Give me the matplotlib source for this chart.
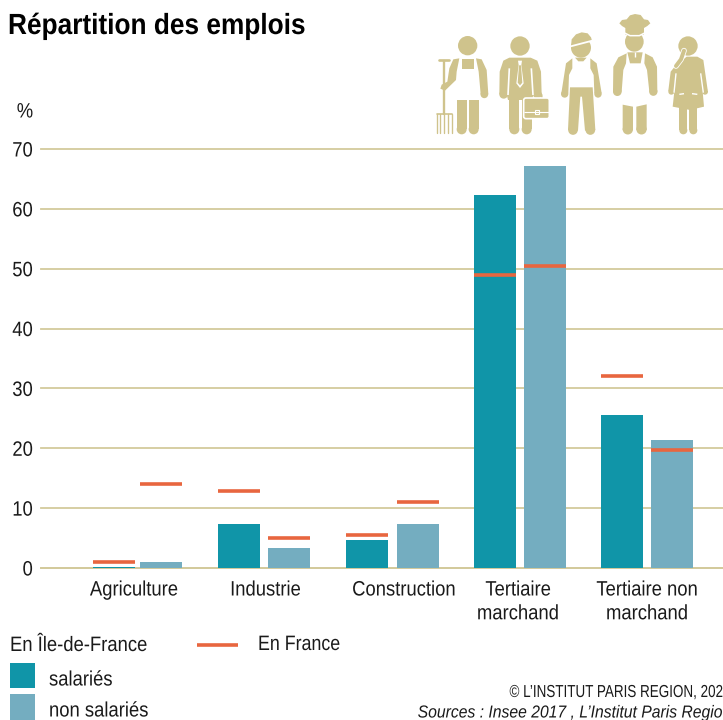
import matplotlib
matplotlib.use('Agg')
import matplotlib.pyplot as plt
import numpy as np
from matplotlib.patches import Circle, Ellipse, FancyBboxPatch, Polygon, Rectangle
from matplotlib.patheffects import AbstractPathEffect
from matplotlib.transforms import Affine2D

categories = ['Agriculture', 'Industrie', 'Construction', 'Tertiaire\nmarchand', 'Tertiaire non\nmarchand']
idf_salaries = [0.2, 7.4, 4.7, 62.3, 25.6]
idf_non_salaries = [1.0, 3.3, 7.3, 67.2, 21.4]
france_salaries = [1.0, 12.8, 5.5, 49.0, 32.0]
france_non_salaries = [14.0, 5.0, 11.1, 50.4, 19.7]
y_ticks = [0, 10, 20, 30, 40, 50, 60, 70]

TEAL = '#1095A8'
LIGHT = '#74ADC0'
ORANGE = '#E8663F'
TAN = '#CFC38C'
GRID = '#D3CA9C'
INK = '#1A1A1A'
NARROW = 0.885


class Narrow(AbstractPathEffect):
    """Squeezes text sideways around a pixel column, no narrow font is installed."""

    def __init__(self, factor, anchor):
        super().__init__()
        self.factor = factor
        self.anchor = anchor

    def draw_path(self, renderer, gc, tpath, affine, rgbFace=None):
        squeeze = Affine2D().translate(-self.anchor, 0).scale(self.factor, 1).translate(self.anchor, 0)
        renderer.draw_path(gc, tpath, affine + squeeze, rgbFace)


plt.rcParams['font.family'] = ['Liberation Sans', 'DejaVu Sans']
W, H = 723, 720
fig = plt.figure(figsize=(W / 100, H / 100), dpi=100)

# main chart, y=0 sits at pixel 568 and y=70 at pixel 149
ax = fig.add_axes([41 / W, (H - 568) / H, (W - 41) / W, (568 - 149) / H])
x = np.array([0, 0.992, 2, 2.996, 3.996])
offset = np.array([0.184, 0.198, 0.2, 0.196, 0.197])
label_x = x + np.array([-0.027, 0.012, 0.09, -0.012, 0.0])
width = 0.33
ax.bar(x - offset, idf_salaries, width, color=TEAL, zorder=3)
ax.bar(x + offset, idf_non_salaries, width, color=LIGHT, zorder=3)
ax.hlines(france_salaries, x - offset - width / 2, x - offset + width / 2, color=ORANGE, lw=2.6, zorder=4)
ax.hlines(france_non_salaries, x + offset - width / 2, x + offset + width / 2, color=ORANGE, lw=2.6, zorder=4)

ax.set_xlim(-0.757, 4.59)
ax.set_ylim(0, 70)
ax.set_yticks(y_ticks)
ax.set_xticks(label_x)
ax.set_xticklabels(categories, fontsize=15, color=INK, linespacing=1.32)
ax.tick_params(axis='both', length=0, colors=INK)
ax.tick_params(axis='y', labelsize=15, pad=5.8)
ax.tick_params(axis='x', pad=9)
ax.grid(axis='y', color=GRID, lw=1.3, zorder=1)
ax.set_axisbelow(True)
for line in ax.get_ygridlines():
    line.set_clip_on(False)
for side in ['top', 'right', 'left']:
    ax.spines[side].set_visible(False)
ax.spines['bottom'].set_color(GRID)
ax.spines['bottom'].set_linewidth(1.3)

for label, pos in zip(ax.get_xticklabels(), label_x):
    label.set_path_effects([Narrow(NARROW, ax.transData.transform((pos, 0))[0])])
for label in ax.get_yticklabels():
    label.set_path_effects([Narrow(NARROW, 33)])

# everything around the chart, in picture pixels
over = fig.add_axes([0, 0, 1, 1], zorder=5)
over.set_xlim(0, W)
over.set_ylim(H, 0)
over.axis('off')
over.patch.set_alpha(0)


def put(px, py, text, size=15, factor=NARROW, **kwargs):
    kwargs.setdefault('color', INK)
    kwargs.setdefault('va', 'center')
    t = over.text(px, py, text, fontsize=size, **kwargs)
    t.set_path_effects([Narrow(factor, px)])
    return t


put(8, 26, 'Répartition des emplois', size=21, factor=0.90, fontweight='bold', color='black')
put(25, 112, '%', ha='center')

put(10, 645.5, 'En Île-de-France')
over.plot([197, 238], [644.5, 644.5], color=ORANGE, lw=2.6, solid_capstyle='butt')
put(258, 644.5, 'En France', factor=0.855)
over.add_patch(Rectangle((10, 663), 25, 25, color=TEAL, lw=0))
put(49, 680, 'salariés')
over.add_patch(Rectangle((10, 694), 25, 26, color=LIGHT, lw=0))
put(49, 711, 'non salariés')
put(723, 692.5, '© L’INSTITUT PARIS REGION, 202', size=12.5, factor=0.775, ha='right')
put(723, 713, 'Sources : Insee 2017 , L’Institut Paris Regio', size=12.5, factor=0.905, ha='right', style='italic')

# pictograms, coordinates measured on a 3x crop of the top right corner
pic = fig.add_axes([420 / W, (H - 150) / H, 303 / W, 150 / H], zorder=4)
pic.set_xlim(0, 909)
pic.set_ylim(450, 0)
pic.axis('off')
pic.patch.set_alpha(0)


def limb(points, thick, color=TAN):
    xs, ys = zip(*points)
    pic.plot(xs, ys, color=color, lw=thick * 0.24, solid_capstyle='round', solid_joinstyle='round')


def slit(points, thick=1.0):
    xs, ys = zip(*points)
    pic.plot(xs, ys, color='white', lw=thick, solid_capstyle='butt')


def poly(points, color=TAN):
    pic.add_patch(Polygon(points, closed=True, color=color, lw=0))


def head(cx, cy, r=29):
    pic.add_patch(Circle((cx, cy), r, color=TAN, lw=0))


def leg(left, right, top, bottom=403):
    r = (right - left) / 2
    poly([(left, top), (right, top), (right, bottom - r), (left, bottom - r)])
    head(left + r, bottom - r, r)


# farmer
head(143, 137)
poly([(118, 175), (100, 178), (88, 205), (82, 245), (65, 254), (61, 266), (75, 272), (108, 240), (110, 215)])
poly([(168, 175), (185, 178), (200, 210), (205, 283), (182, 283), (176, 215)])
head(193, 283, 11.5)
poly([(125, 176), (163, 176), (163, 206), (125, 206)])
leg(110, 140, 300)
leg(146, 176, 300)
limb([(72, 182), (72, 342)], 7)
limb([(58, 180), (88, 180)], 8)
limb([(50, 342), (95, 342)], 5)
for tine in [50, 61, 72, 84, 95]:
    limb([(tine, 342), (tine, 400)], 4)

# man with suit
head(300, 138)
leg(268, 298, 285)
leg(305, 335, 285)
poly([(268, 173), (332, 173), (352, 182), (363, 215), (365, 283), (340, 283), (336, 300), (264, 300), (260, 283),
      (238, 283), (239, 215), (250, 182)])
head(251, 283, 13)
head(352, 283, 13)
slit([(268, 205), (264, 285)], 1.2)
slit([(334, 205), (339, 285)], 1.2)
poly([(294, 182), (306, 182), (304, 195), (311, 250), (300, 264), (289, 250), (296, 195)], 'white')
poly([(297, 196), (303, 196), (307, 248), (300, 256), (293, 248)])
pic.add_patch(FancyBboxPatch((335, 281), 30, 20, boxstyle='round,pad=0,rounding_size=6', fc='none', ec=TAN, lw=1.3))
pic.add_patch(FancyBboxPatch((311, 294), 77, 62, boxstyle='round,pad=0,rounding_size=7', fc=TAN, ec='white', lw=1.2))
slit([(312, 335), (388, 335)], 0.8)
pic.add_patch(Rectangle((345, 331), 12, 12, fc=TAN, ec='white', lw=0.8))

# worker with helmet
head(483, 143, 30)
poly([(453, 138), (455, 118), (468, 103), (485, 97), (503, 100), (513, 112), (516, 122)])
slit([(452, 139), (517, 122)], 1.3)
poly([(457, 175), (438, 190), (424, 280), (445, 280), (447, 225), (457, 205)])
poly([(511, 175), (530, 190), (545, 280), (523, 280), (521, 225), (511, 205)])
head(434, 282, 11)
head(534, 282, 11)
poly([(465, 173), (500, 173), (490, 184), (475, 184)])
poly([(450, 262), (518, 262), (526, 390), (495, 392), (486, 290), (481, 290), (474, 392), (444, 390)])
head(459, 390, 14.5)
head(511, 390, 14.5)

# chef
poly([(620, 58), (630, 46), (645, 42), (662, 45), (672, 58), (684, 60), (691, 70), (682, 78), (672, 84), (672, 104),
      (616, 104), (616, 84), (606, 78), (598, 70), (606, 60)])
pic.add_patch(Ellipse((643, 125), 56, 60, color=TAN, lw=0))
pic.plot([616, 630, 658, 672], [100, 107, 107, 100], color='white', lw=1.1)
poly([(620, 160), (595, 172), (580, 200), (579, 275), (605, 275), (610, 210), (618, 190)])
poly([(675, 160), (698, 172), (711, 200), (712, 275), (688, 275), (681, 210), (673, 190)])
head(592, 275, 13)
head(700, 275, 12.5)
poly([(622, 157), (668, 157), (662, 190), (630, 190)])
slit([(645, 157), (645, 170)], 1.0)
poly([(608, 314), (639, 320), (639, 390), (608, 390)])
poly([(649, 320), (680, 313), (680, 390), (649, 390)])
head(623.5, 388, 15.5)
head(664.5, 388, 15.5)

# woman
head(804, 138)
leg(778, 802, 322)
leg(808, 832, 322)
poly([(772, 190), (790, 178), (800, 170), (832, 170), (850, 180), (863, 270), (850, 280), (848, 275), (852, 320),
      (810, 330), (758, 320), (763, 275), (758, 282), (745, 272), (752, 215)])
head(754, 275, 9)
head(855, 275, 9)
limb([(792, 152), (783, 178), (768, 198)], 17, 'white')
limb([(792, 152), (783, 178), (768, 198)], 12)
slit([(768, 220), (762, 278)], 1.0)
slit([(842, 220), (850, 278)], 1.0)
slit([(778, 283), (792, 281)], 1.0)
slit([(816, 281), (832, 283)], 1.0)

fig.savefig('out.png', dpi=100)
